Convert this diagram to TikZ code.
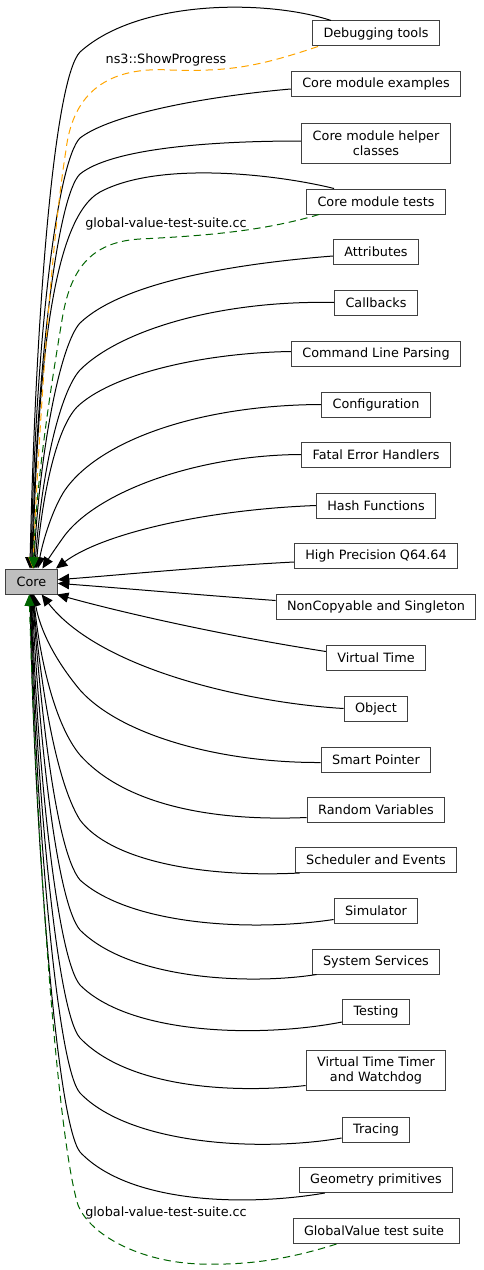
\documentclass[tikz,border=0pt]{standalone}
\usepackage{fontspec}
\setmainfont{DejaVu Sans}
\usetikzlibrary{positioning, arrows.meta, calc}

\definecolor{framegray}{HTML}{404040}
\definecolor{coregray}{HTML}{BFBFBF}
\definecolor{progressorange}{HTML}{FFA500}
\definecolor{suitegreen}{HTML}{006400}

\begin{document}
\begin{tikzpicture}[
    x=0.75pt, y=-0.75pt,
    font=\fontsize{9.6}{11.3}\selectfont,
    group/.style={
        draw=framegray,
        fill=white,
        line width=0.75pt,
        inner xsep=8.25pt,
        minimum height=18.75pt,
        align=center
    },
    tallgroup/.style={group, minimum height=30pt},
    current/.style={group, fill=coregray},
    dep/.style={line width=0.75pt, -{Triangle[length=8.5pt, width=7.5pt]}},
    usage/.style={dep, dash pattern=on 5.5pt off 3.5pt},
    edgelabel/.style={inner sep=0pt}
]

\useasboundingbox (0,0) rectangle (483,1270);

% ===== module nodes =====
\node[current] (core) at (31.5,581.5) {Core};

\foreach \id/\ypos/\lbl in {
    dbg/33.5/Debugging tools,
    examples/84/Core module examples,
    tests/201.5/Core module tests,
    attrs/251.5/Attributes,
    callbacks/302.5/Callbacks,
    cmdline/353.5/Command Line Parsing,
    config/404.5/Configuration,
    fatal/454.5/Fatal Error Handlers,
    hash/505.5/Hash Functions,
    hiprec/556/High Precision Q64.64,
    noncopy/606.5/NonCopyable and Singleton,
    vtime/657.5/Virtual Time,
    object/708.5/Object,
    smartptr/759.5/Smart Pointer,
    random/809.5/Random Variables,
    sched/860/Scheduler and Events,
    simulator/910.5/Simulator,
    syssvc/961.5/System Services,
    testing/1012/Testing,
    tracing/1129.5/Tracing,
    geometry/1180/Geometry primitives,
    gvsuite/1231/GlobalValue test suite
}{
    \node[group] (\id) at (376,\ypos) {\lbl};
}
\node[tallgroup] (helper) at (376,143) {Core module helper\\classes};
\node[tallgroup] (vtimer) at (376,1070.5) {Virtual Time Timer\\and Watchdog};

% ===== groups above Core =====
\draw[dep] ($(dbg.north west)+(19,0)$) .. controls (270,0) and (140,-2) .. (80,52)
    .. controls (55,78) and (36,300) .. (core.97);
\draw[dep] ($(examples.west)+(0,5)$) .. controls (200,97) and (110,115) .. (80,138)
    .. controls (58,160) and (36,330) .. (core.93);
\draw[dep] ($(helper.west)+(0,-2)$) .. controls (200,141) and (110,150) .. (80,174)
    .. controls (58,195) and (37,360) .. (core.89);
\draw[dep] ($(tests.north west)+(28,0)$) .. controls (280,175) and (160,160) .. (100,192)
    .. controls (50,220) and (38,380) .. (core.86);
\draw[dep] ($(attrs.west)+(0,4.5)$) .. controls (220,265) and (120,285) .. (80,323)
    .. controls (60,345) and (40,450) .. (core.81);
\draw[dep] (callbacks.west) .. controls (220,300) and (120,330) .. (80,370)
    .. controls (60,392) and (42,470) .. (core.76);
\draw[dep] ($(cmdline.west)+(0,-2)$) .. controls (200,353) and (110,375) .. (77,407)
    .. controls (55,430) and (42,500) .. (core.71);
\draw[dep] (config.west) .. controls (200,405) and (100,440) .. (65,490)
    .. controls (53,508) and (43,540) .. (core.64);
\draw[dep] (fatal.west) .. controls (200,455) and (100,490) .. (65,535)
    .. controls (57,546) and (49,558) .. (core.50);
\draw[dep] (hash.west) .. controls (200,510) and (100,535) .. (core.28);

% ===== groups beside Core =====
\draw[dep] ($(hiprec.west)+(0,6)$) .. controls (200,567) and (120,575) .. (core.4);
\draw[dep] ($(noncopy.west)+(0,-6)$) .. controls (200,595) and (120,588) .. (core.-4);
\draw[dep] ($(vtime.west)+(0,-6)$) .. controls (220,635) and (120,612) .. (core.-27);
\draw[dep] (object.west) .. controls (250,703) and (100,670) .. (core.-52);

% ===== groups below Core =====
\draw[dep] ($(smartptr.west)+(0,3)$) .. controls (220,763) and (120,735) .. (80,690)
    .. controls (55,660) and (40,630) .. (core.-80);
\draw[dep] ($(random.west)+(0,8)$) .. controls (200,822) and (120,800) .. (80,755)
    .. controls (55,725) and (40,660) .. (core.-82);
\draw[dep] ($(sched.south west)+(5,0)$) .. controls (200,878) and (110,860) .. (80,820)
    .. controls (55,780) and (40,680) .. (core.-84);
\draw[dep] ($(simulator.west)+(0,9)$) .. controls (250,932) and (130,925) .. (80,880)
    .. controls (55,850) and (40,700) .. (core.-86);
\draw[dep] ($(syssvc.south west)+(5,0)$) .. controls (250,985) and (130,980) .. (80,930)
    .. controls (55,900) and (38,720) .. (core.-88);
\draw[dep] ($(testing.west)+(0,10)$) .. controls (260,1038) and (130,1035) .. (80,985)
    .. controls (55,955) and (36,740) .. (core.-90);
\draw[dep] ($(vtimer.west)+(0,15)$) .. controls (240,1093) and (130,1090) .. (80,1038)
    .. controls (55,1010) and (35,760) .. (core.-92);
\draw[dep] ($(tracing.west)+(0,8.5)$) .. controls (260,1152) and (130,1145) .. (80,1093)
    .. controls (55,1065) and (34,780) .. (core.-94);
\draw[dep] ($(geometry.south west)+(26,0)$) .. controls (250,1206) and (130,1205) .. (80,1152)
    .. controls (55,1120) and (33,800) .. (core.-96);

% ===== dashed usage links =====
\draw[usage, progressorange] ($(dbg.south west)+(6,0)$) .. controls (260,66) and (230,72) .. (170,70)
    .. controls (100,66) and (72,100) .. (66,150)
    .. controls (50,250) and (38,450) .. (core.84);
\draw[usage, suitegreen] ($(tests.south west)+(13,0)$) .. controls (260,232) and (200,236) .. (140,239)
    .. controls (90,242) and (70,270) .. (62,320)
    .. controls (52,380) and (36,480) .. (core.82);
\draw[usage, suitegreen] ($(gvsuite.south west)+(44,0)$) .. controls (280,1262) and (240,1265) .. (200,1264)
    .. controls (140,1262) and (90,1235) .. (78,1205)
    .. controls (55,1130) and (35,800) .. (core.-100);

% ===== link labels =====
\node[edgelabel] (progresslbl) at (166,60) {ns3::ShowProgress};
\node[edgelabel] (suitelbl) at (166,224) {global-value-test-suite.cc};
\node[edgelabel] (suitelbl2) at (166,1213) {global-value-test-suite.cc};

\end{tikzpicture}
\end{document}
